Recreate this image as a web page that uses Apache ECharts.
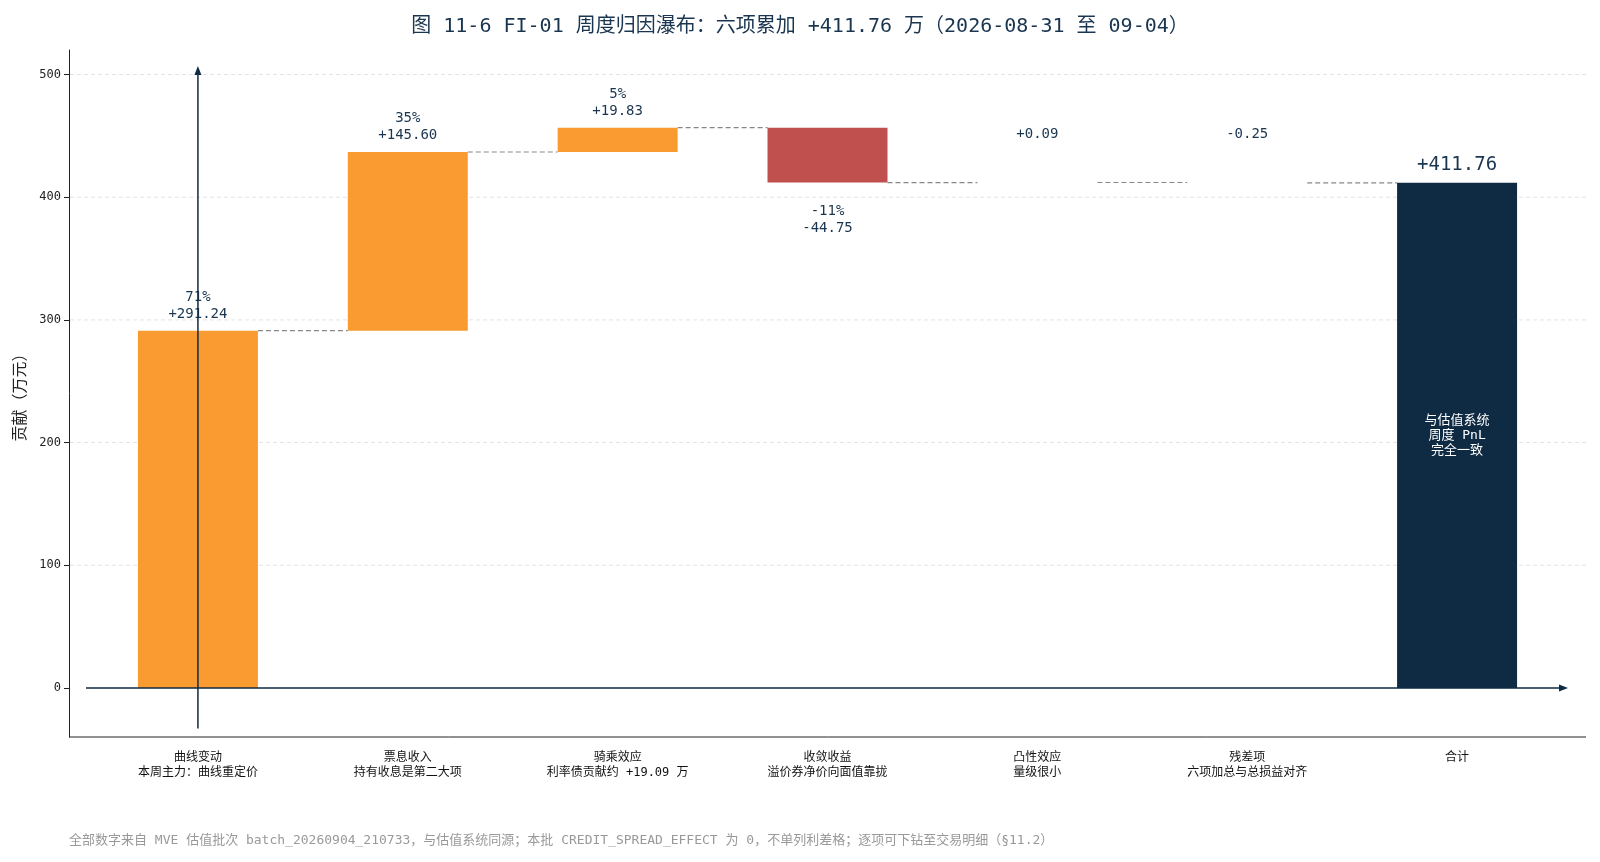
<!DOCTYPE html>
<html><head><meta charset="utf-8">
<script src="https://cdn.jsdelivr.net/npm/echarts@6/dist/echarts.min.js"></script>
<style>html,body{margin:0;padding:0;background:#fff}#c{width:1600px;height:862px}</style>
</head><body><div id="c"></div>
<script>
const categories = ['曲线变动\n本周主力：曲线重定价','票息收入\n持有收息是第二大项','骑乘效应\n利率债贡献约 +19.09 万','收敛收益\n溢价券净价向面值靠拢','凸性效应\n量级很小','残差项\n六项加总与总损益对齐','合计'];
const deltas = [291.24, 145.60, 19.83, -44.75, 0.09, -0.25];
const total = 411.76;
const yTicks = [0,100,200,300,400,500];

const F = '"DejaVu Sans Mono","Noto Sans CJK SC",monospace';
const base=[], vis=[], colors=[], cum=[];
let c=0;
deltas.forEach((d,i)=>{ const n=c+d; base.push(Math.min(c,n)); vis.push(Math.abs(d)); cum.push(n);
  colors.push(i===3?'#C0504D':(Math.abs(d)<1?'rgba(0,0,0,0)':'#F99B31')); c=n; });
base.push(0); vis.push(total); colors.push('#0F2A43');
const fmt=v=>(v>=0?'+':'')+v.toFixed(2);
const labels = deltas.map(d=>Math.abs(d)<1?fmt(d):Math.round(d/total*100)+'%\n'+fmt(d));

const chart = echarts.init(document.getElementById('c'));
const visData = vis.map((v,i)=>{
  const o={value:v,itemStyle:{color:colors[i]}};
  if(i<6){ const neg=deltas[i]<0 && Math.abs(deltas[i])>=1;
    o.label={show:true,position:neg?'bottom':'top',distance:Math.abs(deltas[i])<1?40:(neg?20:8),formatter:labels[i],color:'#1a3550',fontSize:14,lineHeight:17,fontFamily:F};
  } else {
    o.label={show:true,position:'top',distance:8,formatter:fmt(total),color:'#1a3550',fontSize:19,fontFamily:F};
  }
  return o;});
chart.setOption({
  animation:false,
  title:{text:'图 11-6 FI-01 周度归因瀑布：六项累加 +411.76 万（2026-08-31 至 09-04）',left:'center',top:12,
    textStyle:{fontSize:20,fontWeight:'normal',color:'#1a3550',fontFamily:F}},
  grid:{left:93,right:38,top:50,bottom:125},
  xAxis:{type:'category',data:categories,axisLine:{show:false},axisTick:{show:false},
    axisLabel:{color:'#111',fontSize:12,lineHeight:15,margin:13,fontFamily:F}},
  yAxis:{type:'value',min:-40,max:520,offset:24,name:'贡献（万元）',nameLocation:'middle',nameGap:40,
    nameTextStyle:{fontSize:16,color:'#222',fontFamily:F},
    axisLine:{show:true,lineStyle:{color:'#222'}},axisTick:{show:true,customValues:yTicks,lineStyle:{color:'#222'}},
    axisLabel:{customValues:yTicks,color:'#222',fontSize:12,fontFamily:F},splitLine:{show:false}},
  series:[
    {type:'bar',stack:'w',data:base,itemStyle:{color:'rgba(0,0,0,0)'},barWidth:120,silent:true},
    {type:'bar',stack:'w',data:visData,barWidth:120},
    {type:'bar',stack:'x',barGap:'-100%',barWidth:120,data:[0,0,0,0,0,0,{value:total,itemStyle:{color:'rgba(0,0,0,0)'},
      label:{show:true,position:'inside',formatter:'与估值系统\n周度 PnL\n完全一致',color:'#fff',fontSize:13,lineHeight:15,fontFamily:F}}]}
  ]
});
function draw(){
  const P=(x,y)=>chart.convertToPixel({xAxisIndex:0,yAxisIndex:0},[x,y]);
  const g=[];
  yTicks.slice(1).forEach(t=>{const y=P(0,t)[1];g.push({type:'line',shape:{x1:70,y1:y,x2:1586,y2:y},style:{stroke:'#e3e3e3',lineDash:[4,3],lineWidth:1},z:-1});});
  const bw=60;
  for(let i=0;i<6;i++){const a=P(i,cum[i]),b=P(i+1,cum[i]);
    g.push({type:'line',shape:{x1:a[0]+bw,y1:a[1],x2:b[0]-bw,y2:a[1]},style:{stroke:'#888',lineDash:[5,3],lineWidth:1.2}});}
  const y0=P(0,0)[1], x0=P(0,0)[0];
  g.push({type:'line',shape:{x1:86,y1:y0,x2:1562,y2:y0},style:{stroke:'#0F2A43',lineWidth:1.5},z:10});
  g.push({type:'polygon',shape:{points:[[1568,y0],[1559,y0-3.5],[1559,y0+3.5]]},style:{fill:'#0F2A43'},z:10});
  const yb=P(0,-33)[1], yt=P(0,507)[1];
  g.push({type:'line',shape:{x1:x0,y1:yb,x2:x0,y2:yt+6},style:{stroke:'#0F2A43',lineWidth:1.5},z:10});
  g.push({type:'polygon',shape:{points:[[x0,yt],[x0-3.5,yt+9],[x0+3.5,yt+9]]},style:{fill:'#0F2A43'},z:10});
  const yB=P(0,-40)[1];
  g.push({type:'line',shape:{x1:69,y1:yB,x2:1586,y2:yB},style:{stroke:'#222',lineWidth:1}});
  g.push({type:'text',left:69,top:834,style:{text:'全部数字来自 MVE 估值批次 batch_20260904_210733，与估值系统同源；本批 CREDIT_SPREAD_EFFECT 为 0，不单列利差格；逐项可下钻至交易明细（§11.2）',fill:'#999',fontSize:13,fontFamily:F}});
  chart.setOption({graphic:g});
}
draw();
</script></body></html>
